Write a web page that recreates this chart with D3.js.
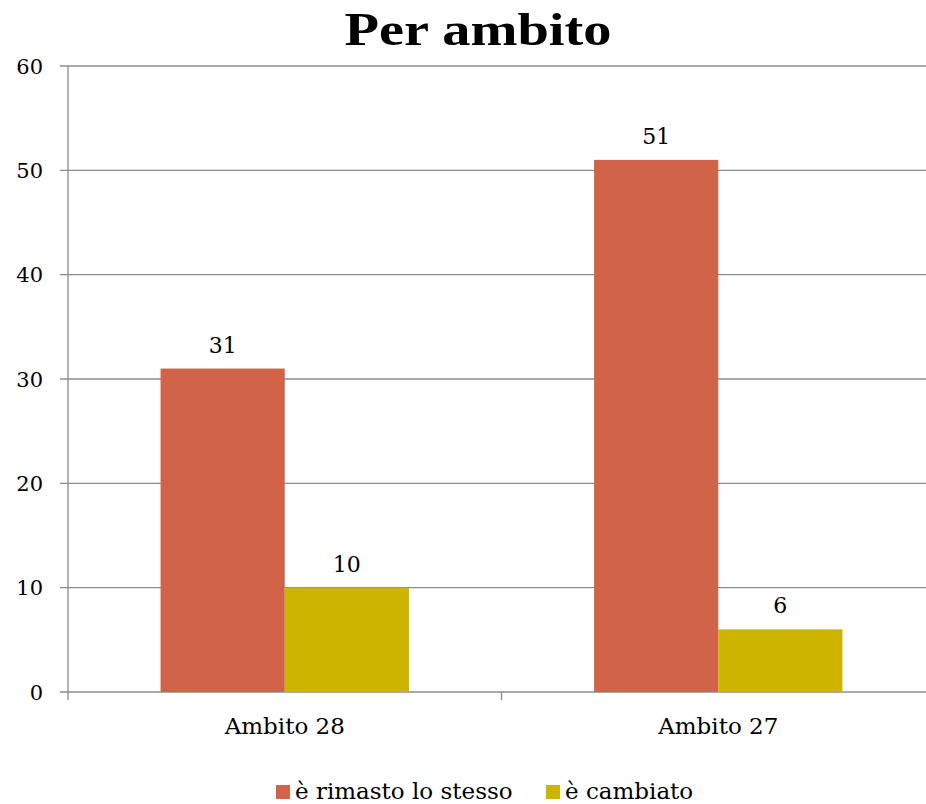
<!DOCTYPE html>
<html>
<head>
<meta charset="utf-8">
<script src="https://cdn.jsdelivr.net/npm/d3@7"></script>
<style>
    body { margin: 0; background: #fff; }
    text { font-family: Georgia, "DejaVu Serif", serif; fill: #000; }
</style>
</head>
<body>
<div id="chart"></div>
<script>
// chart data
const categories = ["Ambito 28", "Ambito 27"];
const seriesNames = ["è rimasto lo stesso", "è cambiato"];
const rimasto = [31, 51];
const cambiato = [10, 6];
const yTicks = [0, 10, 20, 30, 40, 50, 60];
const colors = ["#D16349", "#CCB400"];

const W = 926, H = 804;
const margin = { top: 66, right: -9, bottom: 112, left: 68 };
const width = W - margin.left - margin.right;
const height = H - margin.top - margin.bottom;

const svg = d3.select("#chart")
    .append("svg")
    .attr("width", W)
    .attr("height", H);

// Title
svg.append("text")
    .attr("x", 478)
    .attr("y", 45)
    .attr("textLength", 267)
    .attr("lengthAdjust", "spacingAndGlyphs")
    .style("font-family", "'Liberation Serif', 'Times New Roman', serif")
    .style("font-weight", "bold")
    .style("font-size", "47px")
    .style("text-anchor", "middle")
    .text("Per ambito");

const g = svg.append("g")
    .attr("transform", `translate(${margin.left},${margin.top})`);

const x0 = d3.scaleBand()
    .domain(categories)
    .range([0, width]);

const x1 = d3.scaleBand()
    .domain(seriesNames)
    .range([x0.bandwidth() * 0.2135, x0.bandwidth() * 0.7865]);

const y = d3.scaleLinear()
    .domain([0, 60])
    .range([height, 0]);

// Gridlines
g.append("g")
    .selectAll("line")
    .data(yTicks)
    .enter()
    .append("line")
    .attr("x1", -8)
    .attr("x2", width)
    .attr("y1", d => y(d))
    .attr("y2", d => y(d))
    .style("stroke", "#8c8c8c")
    .style("stroke-width", "1.3px");

// Y axis line
g.append("line")
    .attr("x1", 0).attr("x2", 0)
    .attr("y1", 0).attr("y2", height + 8)
    .style("stroke", "#8c8c8c")
    .style("stroke-width", "1.3px");

// Category ticks
g.append("g")
    .selectAll("line")
    .data(categories)
    .enter()
    .append("line")
    .attr("x1", d => x0(d) + x0.bandwidth())
    .attr("x2", d => x0(d) + x0.bandwidth())
    .attr("y1", height)
    .attr("y2", height + 8)
    .style("stroke", "#8c8c8c")
    .style("stroke-width", "1.3px");

// Y labels
g.append("g")
    .selectAll("text")
    .data(yTicks)
    .enter()
    .append("text")
    .attr("x", -25)
    .attr("y", d => y(d))
    .attr("dy", "0.36em")
    .style("text-anchor", "end")
    .style("font-size", "21px")
    .text(d => d);

// Bars
const data = categories.map((c, i) => ({
    category: c,
    values: [
        { name: seriesNames[0], value: rimasto[i], color: colors[0] },
        { name: seriesNames[1], value: cambiato[i], color: colors[1] }
    ]
}));

const groups = g.selectAll(".group")
    .data(data)
    .enter()
    .append("g")
    .attr("class", "group")
    .attr("transform", d => `translate(${x0(d.category)},0)`);

groups.selectAll("rect")
    .data(d => d.values)
    .enter()
    .append("rect")
    .attr("x", d => x1(d.name))
    .attr("width", x1.bandwidth())
    .attr("y", d => y(d.value))
    .attr("height", d => height - y(d.value))
    .style("fill", d => d.color);

// Value labels
groups.selectAll(".value-label")
    .data(d => d.values)
    .enter()
    .append("text")
    .attr("class", "value-label")
    .attr("x", d => x1(d.name) + x1.bandwidth() / 2)
    .attr("y", d => y(d.value) - 16)
    .style("text-anchor", "middle")
    .style("font-size", "22px")
    .text(d => d.value);

// Category labels
g.append("g")
    .selectAll("text")
    .data(categories)
    .enter()
    .append("text")
    .attr("x", d => x0(d) + x0.bandwidth() / 2)
    .attr("y", height + 42)
    .style("text-anchor", "middle")
    .style("font-size", "23px")
    .text(d => d);

// Legend
const legendX = [276, 546];
const legend = svg.append("g")
    .selectAll("g")
    .data(seriesNames)
    .enter()
    .append("g")
    .attr("transform", (d, i) => `translate(${legendX[i]},785)`);

legend.append("rect")
    .attr("width", 14)
    .attr("height", 14)
    .style("fill", (d, i) => colors[i]);

legend.append("text")
    .attr("x", 19)
    .attr("y", 14)
    .style("font-size", "23px")
    .text(d => d);
</script>
</body>
</html>
